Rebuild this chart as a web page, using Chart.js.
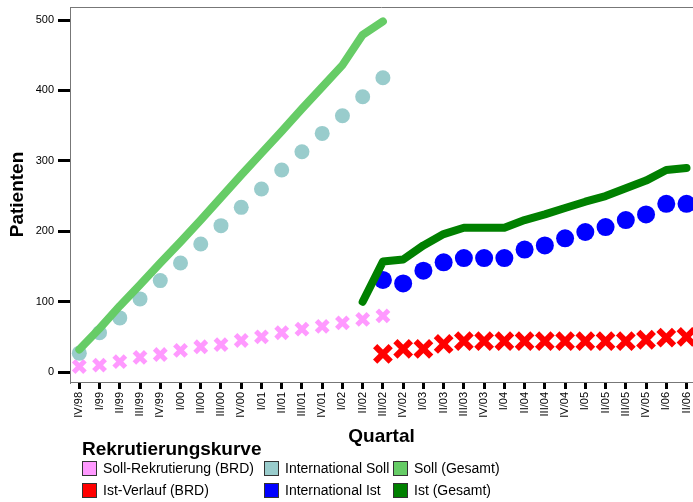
<!DOCTYPE html>
<html lang="de">
<head>
<meta charset="utf-8">
<title>Rekrutierungskurve</title>
<script src="https://cdn.jsdelivr.net/npm/chart.js@4"></script>
<style>
  html, body { margin: 0; padding: 0; background: #fff; }
  #wrap { position: relative; width: 693px; height: 502px; font-family: "Liberation Sans", Arial, sans-serif; }
  #legende { position: absolute; left: 82px; top: 438px; color: #000; }
  #legende .titel { font-weight: bold; font-size: 19px; line-height: 22px; }
  #legende .zeilen { display: grid; grid-template-columns: 182px 129px auto; row-gap: 6px; }
  .eintrag { display: flex; align-items: center; font-size: 14px; height: 16px; white-space: nowrap; }
  .kasten { width: 15px; height: 15px; border: 1px solid #333; box-sizing: border-box; margin-right: 6px; }
</style>
</head>
<body>
<div id="wrap">
  <canvas id="chart" width="693" height="502"></canvas>
  <div id="legende"><div class="titel">Rekrutierungskurve</div><div class="zeilen"></div></div>
</div>
<script>
// Quartale IV/98 bis II/06
var quartale = ['IV/98', 'I/99', 'II/99', 'III/99', 'IV/99', 'I/00', 'II/00', 'III/00', 'IV/00',
  'I/01', 'II/01', 'III/01', 'IV/01', 'I/02', 'II/02', 'III/02', 'IV/02', 'I/03', 'II/03', 'III/03',
  'IV/03', 'I/04', 'II/04', 'III/04', 'IV/04', 'I/05', 'II/05', 'III/05', 'IV/05', 'I/06', 'II/06'];
var yWerte = [0, 100, 200, 300, 400, 500];

// Soll-Kurven ab IV/98 (Index 0)
var sollBRD = [8, 10, 15, 21, 25, 31, 36, 39, 45, 50, 56, 61, 65, 70, 75, 80];
var sollInternational = [27, 56, 77, 104, 130, 155, 182, 208, 234, 260, 287, 313, 339, 364, 391, 418];
var sollGesamt = [32, 62, 94, 124, 155, 185, 216, 248, 280, 311, 342, 374, 405, 436, 479, 498];

// Ist-Kurven ab III/02 (Index 15), Gesamt ab II/02 (Index 14)
var istBRD = [26, 33, 33, 40, 44, 44, 44, 44, 44, 44, 44, 44, 44, 46, 49, 50];
var istInternational = [131, 126, 144, 156, 162, 162, 162, 174, 180, 190, 199, 206, 216, 224, 239, 239];
var istGesamt = [100, 157, 160, 180, 196, 205, 205, 205, 216, 224, 233, 242, 250, 261, 272, 287, 290];

var legende = ['Soll-Rekrutierung (BRD)', 'International Soll', 'Soll (Gesamt)',
  'Ist-Verlauf (BRD)', 'International Ist', 'Ist (Gesamt)'];

function punkte(werte, ab) {
  return werte.map(function (v, i) { return { x: ab + i, y: v }; });
}

function linie(label, werte, ab, farbe) {
  return {
    label: label, data: punkte(werte, ab), borderColor: farbe, backgroundColor: farbe,
    borderWidth: 8, borderCapStyle: 'round', borderJoinStyle: 'round', pointRadius: 0, tension: 0,
  };
}
function kreise(label, werte, ab, farbe, r) {
  return {
    label: label, data: punkte(werte, ab), showLine: false, backgroundColor: farbe, borderColor: farbe,
    pointStyle: 'circle', pointRadius: r, pointBorderWidth: 0,
  };
}
function kreuze(label, werte, ab, farbe, r, w) {
  return {
    label: label, data: punkte(werte, ab), showLine: false, backgroundColor: farbe, borderColor: farbe,
    pointStyle: 'crossRot', pointRadius: r, pointBorderWidth: w,
  };
}

// Reihenfolge: erster Datensatz liegt oben
var datensaetze = [
  linie('Soll (Gesamt)', sollGesamt, 0, '#66cc66'),
  linie('Ist (Gesamt)', istGesamt, 14, '#008000'),
  kreise('International Soll', sollInternational, 0, '#99cccc', 7.5),
  kreise('International Ist', istInternational, 15, '#0000ff', 9),
  kreuze('Soll-Rekrutierung (BRD)', sollBRD, 0, '#ff99ff', 8, 5),
  kreuze('Ist-Verlauf (BRD)', istBRD, 15, '#ff0000', 11, 6),
];

var rahmen = {
  id: 'rahmen',
  beforeDatasetsDraw: function (chart) {
    var a = chart.chartArea, ctx = chart.ctx;
    ctx.save();
    ctx.strokeStyle = '#777';
    ctx.lineWidth = 1;
    ctx.beginPath();
    ctx.moveTo(a.left, a.top + 0.5);
    ctx.lineTo(a.right, a.top + 0.5);
    ctx.stroke();
    ctx.restore();
  },
};

Chart.defaults.font.family = '"Liberation Sans", Arial, sans-serif';
Chart.defaults.color = '#000';

new Chart(document.getElementById('chart').getContext('2d'), {
  type: 'line',
  data: { datasets: datensaetze },
  plugins: [rahmen],
  options: {
    responsive: false,
    animation: false,
    layout: { autoPadding: false, padding: { top: 7, right: 0, bottom: 54, left: 0 } },
    plugins: { legend: { display: false }, tooltip: { enabled: false } },
    scales: {
      x: {
        type: 'linear',
        min: -0.46,
        max: 30.32,
        afterBuildTicks: function (s) { s.ticks = quartale.map(function (_, i) { return { value: i }; }); },
        afterFit: function (s) { s.height = 66; s.paddingLeft = 0; s.paddingRight = 0; },
        ticks: {
          autoSkip: false, minRotation: 90, maxRotation: 90, padding: 3, font: { size: 11 },
          callback: function (v) { return quartale[v]; },
        },
        grid: { drawOnChartArea: false, tickLength: 7, color: '#000', lineWidth: 3 },
        border: { color: '#777', width: 1 },
        title: { display: true, text: 'Quartal', font: { size: 19, weight: 'bold' }, padding: { top: 0, bottom: 0 } },
      },
      y: {
        min: -14,
        max: 518.5,
        afterBuildTicks: function (s) { s.ticks = yWerte.map(function (v) { return { value: v }; }); },
        afterFit: function (s) { s.width = 70; s.paddingTop = 0; s.paddingBottom = 0; },
        ticks: { padding: 4, font: { size: 11 } },
        grid: { drawOnChartArea: false, tickLength: 12, color: '#000', lineWidth: 3 },
        border: { color: '#777', width: 1 },
        title: { display: true, text: 'Patienten', font: { size: 19, weight: 'bold' }, padding: { top: 6, bottom: 0 } },
      },
    },
  },
});

// Legende in drei Spalten
var zeilen = document.querySelector('#legende .zeilen');
legende.forEach(function (name) {
  var d = datensaetze.filter(function (ds) { return ds.label === name; })[0];
  var el = document.createElement('div');
  el.className = 'eintrag';
  el.innerHTML = '<span class="kasten" style="background:' + d.backgroundColor + '"></span>' + name;
  zeilen.appendChild(el);
});
</script>
</body>
</html>
